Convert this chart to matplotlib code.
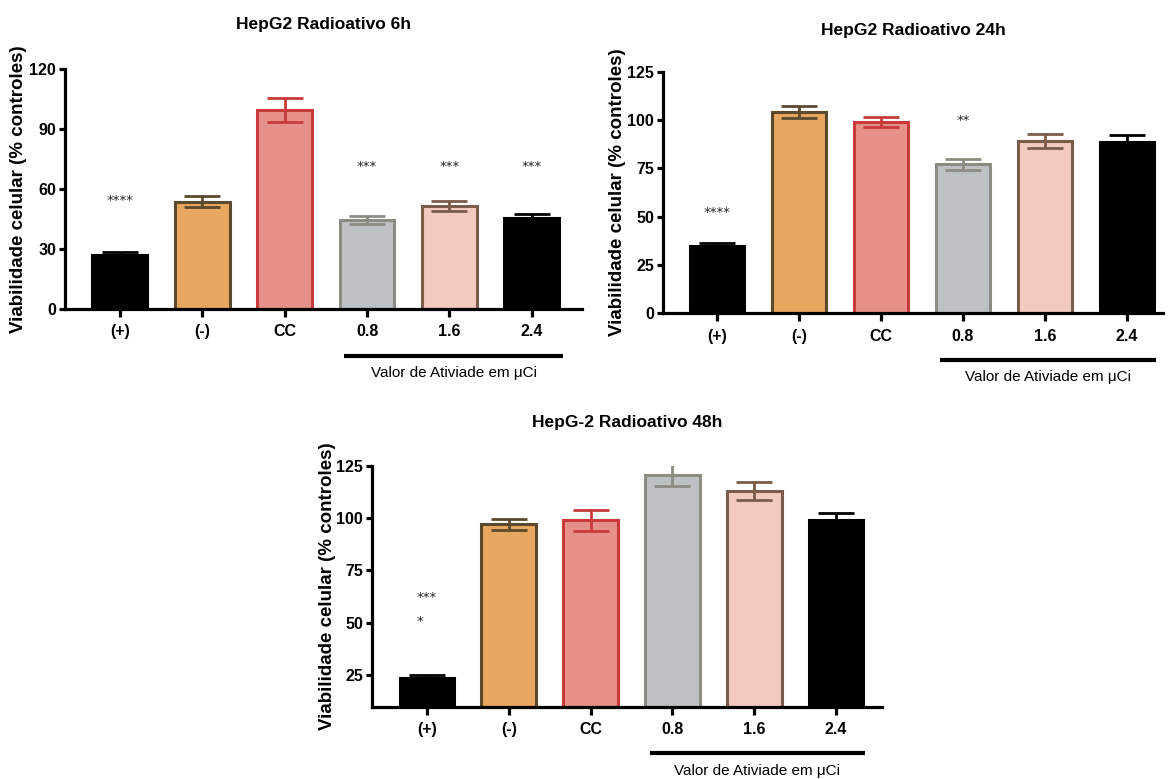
import matplotlib
matplotlib.use("Agg")
import matplotlib.pyplot as plt
from matplotlib import font_manager

# ---------------- data ----------------
categories = ["(+)", "(-)", "CC", "0.8", "1.6", "2.4"]

titles = ["HepG2 Radioativo 6h", "HepG2 Radioativo 24h", "HepG-2 Radioativo 48h"]

means_6h = [26.8, 53.7, 99.5, 44.5, 51.5, 45.5]
sem_6h = [1.7, 2.8, 6.0, 2.0, 2.3, 2.0]

means_24h = [35.0, 104.0, 99.0, 77.0, 89.0, 88.5]
sem_24h = [1.5, 3.0, 2.5, 3.0, 3.7, 3.5]

means_48h = [23.8, 97.0, 99.0, 120.8, 113.0, 99.0]
sem_48h = [1.4, 2.6, 5.0, 5.7, 4.3, 3.5]

yticks_6h = [0, 30, 60, 90, 120]
yticks_24h = [0, 25, 50, 75, 100, 125]
yticks_48h = [25, 50, 75, 100, 125]

# significance marks: (category index, y value, text)
stars_6h = [(0, 54, "****"), (3, 71, "***"), (4, 71, "***"), (5, 71, "***")]
stars_24h = [(0, 52, "****"), (3, 100, "**")]
stars_48h = [(0, 62, "***"), (0, 50.5, "*")]

ylabel = "Viabilidade celular (% controles)"
group_label = "Valor de Ativiade em μCi"

# ---------------- style ----------------
fills = ["#000000", "#E8A75E", "#E5918A", "#BDC1C3", "#F2CBBE", "#000000"]
edges = ["#000000", "#5C4A2E", "#C93A3A", "#8C8C82", "#7A5C4A", "#000000"]

names = {f.name for f in font_manager.fontManager.ttflist}
narrow = "Liberation Sans Narrow" if "Liberation Sans Narrow" in names else "Liberation Sans"
wide = "Liberation Sans" if "Liberation Sans" in names else "DejaVu Sans"

W, H = 1172, 779
fig = plt.figure(figsize=(W / 100, H / 100), dpi=100)


def px_rect(left, right, top, bottom):
    return [left / W, 1 - bottom / H, (right - left) / W, (bottom - top) / H]


panels = [
    dict(rect=px_rect(65, 582, 69, 309), means=means_6h, sem=sem_6h, yt=yticks_6h,
         ylim=(0, 120), xlim=(-0.667, 5.61), stars=stars_6h, title=titles[0],
         title_y=25, ylab_x=19, line=(2.72, 5.38), line_y=355.5, text_y=373),
    dict(rect=px_rect(663, 1163, 71.7, 313.3), means=means_24h, sem=sem_24h, yt=yticks_24h,
         ylim=(0, 125), xlim=(-0.66, 5.44), stars=stars_24h, title=titles[1],
         title_y=30, ylab_x=618, line=(2.72, 5.35), line_y=360, text_y=377),
    dict(rect=px_rect(372, 882, 465.7, 706.7), means=means_48h, sem=sem_48h, yt=yticks_48h,
         ylim=(10, 125), xlim=(-0.67, 5.56), stars=stars_48h, title=titles[2],
         title_y=423, ylab_x=328, line=(2.72, 5.35), line_y=753, text_y=771),
]

for p in panels:
    ax = fig.add_axes(p["rect"])
    x = list(range(len(categories)))
    ax.bar(x, p["means"], width=0.667, color=fills, edgecolor=edges, linewidth=2.2, zorder=2)
    for i in x:
        ax.errorbar(i, p["means"][i], yerr=p["sem"][i], fmt="none", ecolor=edges[i],
                    elinewidth=2.0, capsize=13, capthick=2.0, zorder=3)
    ax.set_xlim(*p["xlim"])
    ax.set_ylim(*p["ylim"])
    ax.set_yticks(p["yt"])
    ax.set_xticks(x)
    ax.set_xticklabels(categories)
    for s in ["top", "right"]:
        ax.spines[s].set_visible(False)
    for s in ["left", "bottom"]:
        ax.spines[s].set_linewidth(2.3)
    ax.tick_params(axis="x", length=6, width=2.3, pad=5)
    ax.tick_params(axis="y", length=4.5, width=2.3, pad=2)
    for lab in ax.get_xticklabels() + ax.get_yticklabels():
        lab.set_fontfamily(narrow)
        lab.set_fontweight("bold")
        lab.set_fontsize(11.5)

    for (ci, yv, txt) in p["stars"]:
        ha = "center"
        xx = ci
        if p["stars"] is stars_48h:
            ha = "left"
            xx = ci - 0.13
        ax.text(xx, yv, txt, ha=ha, va="center", fontsize=9.5, color="#222222",
                family="DejaVu Sans", zorder=4)

    # title
    l, b, w, h = p["rect"]
    fig.text(l + w / 2, 1 - p["title_y"] / H, p["title"], ha="center", va="center",
             family=narrow, fontweight="bold", fontsize=12.5)
    # y label
    fig.text(p["ylab_x"] / W, b + h / 2, ylabel, rotation=90, ha="center", va="center",
             family=wide, fontweight="bold", fontsize=13.5)

    # group line and label
    trans = matplotlib.transforms.blended_transform_factory(ax.transData, fig.transFigure)
    x0, x1 = p["line"]
    ax.plot([x0, x1], [1 - p["line_y"] / H] * 2, color="black", lw=3.0, transform=trans,
            clip_on=False, solid_capstyle="butt")
    ax.text((x0 + x1) / 2, 1 - p["text_y"] / H, group_label, transform=trans, ha="center",
            va="center", family=narrow, fontsize=11)

fig.savefig("out.png", dpi=100)
